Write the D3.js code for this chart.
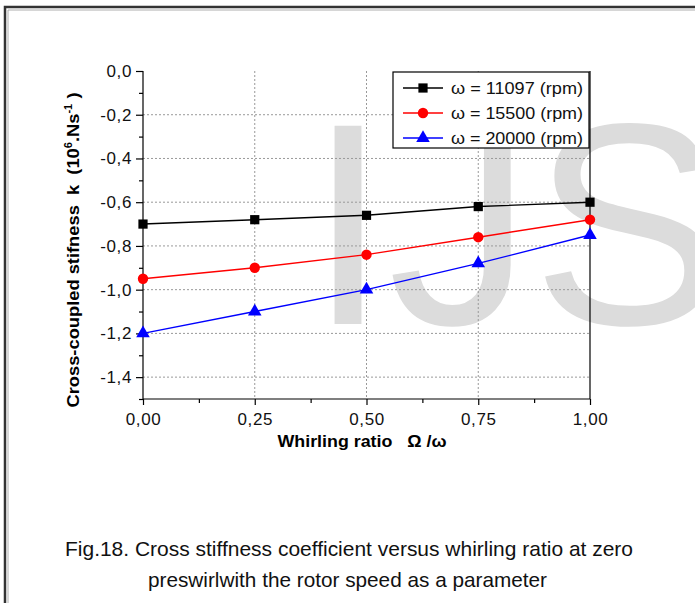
<!DOCTYPE html>
<html><head><meta charset="utf-8">
<script src="https://cdn.jsdelivr.net/npm/d3@7"></script>
<style>body{margin:0;background:#fff}svg{display:block}text{font-family:"Liberation Sans",Arial,sans-serif}</style>
</head><body>
<script>
const ratios = [0, 0.25, 0.5, 0.75, 1.0];
const k11097 = [-0.70, -0.68, -0.66, -0.62, -0.60];
const k15500 = [-0.95, -0.90, -0.84, -0.76, -0.68];
const k20000 = [-1.20, -1.10, -1.00, -0.88, -0.75];
const seriesNames = ["ω = 11097 (rpm)", "ω = 15500 (rpm)", "ω = 20000 (rpm)"];
const xTicks = [0, 0.25, 0.5, 0.75, 1.0];
const yTicks = [0, -0.2, -0.4, -0.6, -0.8, -1.0, -1.2, -1.4];

const W = 695, H = 603;
const svg = d3.select("body").append("svg").attr("width", W).attr("height", H);

function fit(sel, w) { sel.attr("textLength", w).attr("lengthAdjust", "spacingAndGlyphs"); return sel; }

// page frame
svg.append("path").attr("d", "M5,603 V7 H695").attr("fill", "none").attr("stroke", "#333").attr("stroke-width", 2.5);
svg.append("path").attr("d", "M8,603 V10 H695").attr("fill", "none").attr("stroke", "#999").attr("stroke-width", 0.8);

// watermark
svg.append("text").attr("x", 308).attr("y", 324).attr("font-size", 288).attr("fill", "#dcdcdc").text("IJS");

const x = d3.scaleLinear().domain([0, 1]).range([143, 590]);
const y = d3.scaleLinear().domain([0, -1.5]).range([71, 399]);

const fmt = d => d3.format(".1f")(d).replace(".", ",").replace("−", "-");
const fmtx = d => d3.format(".2f")(d).replace(".", ",");

// grid
svg.append("g").selectAll("line").data(yTicks.filter(d => d !== 0)).join("line")
  .attr("x1", x(0)).attr("x2", x(1)).attr("y1", d => y(d)).attr("y2", d => y(d))
  .attr("stroke", "#999").attr("stroke-dasharray", "2,2").attr("stroke-width", 1);
svg.append("g").selectAll("line").data(xTicks.filter(d => d > 0 && d < 1)).join("line")
  .attr("x1", d => x(d)).attr("x2", d => x(d)).attr("y1", y(0)).attr("y2", y(-1.5))
  .attr("stroke", "#999").attr("stroke-dasharray", "2,2").attr("stroke-width", 1);

// axes
const yAxis = d3.axisLeft(y).tickValues(yTicks).tickFormat(fmt).tickSize(7).tickPadding(4);
const gy = svg.append("g").attr("transform", `translate(${x(0)},0)`).call(yAxis);
const yMinor = d3.axisLeft(y).tickValues(d3.range(-0.1, -1.55, -0.2)).tickFormat("").tickSize(4);
svg.append("g").attr("transform", `translate(${x(0)},0)`).call(yMinor).select(".domain").remove();
const xAxis = d3.axisBottom(x).tickValues(xTicks).tickFormat(fmtx).tickSize(6).tickPadding(8);
const gx = svg.append("g").attr("transform", `translate(0,${y(-1.5)})`).call(xAxis);
const xMinor = d3.axisBottom(x).tickValues([0.125, 0.375, 0.625, 0.875]).tickFormat("").tickSize(4);
svg.append("g").attr("transform", `translate(0,${y(-1.5)})`).call(xMinor).select(".domain").remove();
[gy, gx].forEach(g => {
  g.selectAll("text").attr("font-size", 17).attr("fill", "#111").attr("font-family", "Liberation Sans, Arial").attr("letter-spacing", 0.6);
  g.selectAll("path,line").attr("stroke", "#000").attr("stroke-width", 1.2);
});
gy.select(".domain").attr("d", `M0,${y(0)}V${y(-1.5)}`);
gx.select(".domain").attr("d", `M${x(0)},0H${x(1)}`);
svg.selectAll("g.tick line").attr("stroke", "#000").attr("stroke-width", 1.2);
// right border
svg.append("line").attr("x1", x(1)).attr("x2", x(1)).attr("y1", y(0)).attr("y2", y(-1.5)).attr("stroke", "#000").attr("stroke-width", 1.2);

// series
const colors = ["#000000", "#ff0000", "#0000ff"];
const shapes = [d3.symbolSquare, d3.symbolCircle, d3.symbolTriangle];
const sizes = [85, 85, 80];
const allSeries = [k11097, k15500, k20000];
const line = d3.line().x((d, i) => x(ratios[i])).y(d => y(d));
allSeries.forEach((s, si) => {
  svg.append("path").datum(s).attr("d", line).attr("fill", "none").attr("stroke", colors[si]).attr("stroke-width", 1.4);
  svg.append("g").selectAll("path").data(s).join("path")
    .attr("transform", (d, i) => `translate(${x(ratios[i])},${y(d)})`)
    .attr("d", d3.symbol().type(shapes[si]).size(sizes[si])).attr("fill", colors[si]);
});

// legend
const lg = svg.append("g");
lg.append("rect").attr("x", 393).attr("y", 72).attr("width", 196).attr("height", 76).attr("fill", "#fff").attr("stroke", "#000").attr("stroke-width", 1.2);
seriesNames.forEach((n, i) => {
  const yy = 88 + i * 25;
  lg.append("line").attr("x1", 403).attr("x2", 443).attr("y1", yy).attr("y2", yy).attr("stroke", colors[i]).attr("stroke-width", 1.4);
  lg.append("path").attr("transform", `translate(423,${yy})`).attr("d", d3.symbol().type(shapes[i]).size(sizes[i])).attr("fill", colors[i]);
  fit(lg.append("text").attr("x", 451).attr("y", yy + 6).attr("font-size", 16).attr("fill", "#111").text(n), 132);
});

// axis titles
fit(svg.append("text").attr("x", 362).attr("y", 447).attr("text-anchor", "middle").attr("font-size", 16).attr("font-weight", "bold")
  .attr("xml:space", "preserve").text("Whirling ratio   Ω /ω"), 169);
const yl = svg.append("text").attr("transform", "translate(79,250) rotate(-90)").attr("text-anchor", "middle")
  .attr("font-size", 16.5).attr("font-weight", "bold").attr("xml:space", "preserve");
yl.append("tspan").text("Cross-coupled stifness  k  (10");
yl.append("tspan").attr("font-size", 10).attr("dy", -7).text("6");
yl.append("tspan").attr("dy", 7).text(".Ns");
yl.append("tspan").attr("font-size", 10).attr("dy", -7).text("-1");
yl.append("tspan").attr("dy", 7).text(" )");
fit(yl, 315);

// caption
fit(svg.append("text").attr("x", 349).attr("y", 556).attr("text-anchor", "middle").attr("font-size", 21).attr("fill", "#111")
  .text("Fig.18. Cross stiffness coefficient versus whirling ratio at zero"), 568);
fit(svg.append("text").attr("x", 347.5).attr("y", 587).attr("text-anchor", "middle").attr("font-size", 21).attr("fill", "#111")
  .text("preswirlwith the rotor speed as a parameter"), 399);
</script>
</body></html>
